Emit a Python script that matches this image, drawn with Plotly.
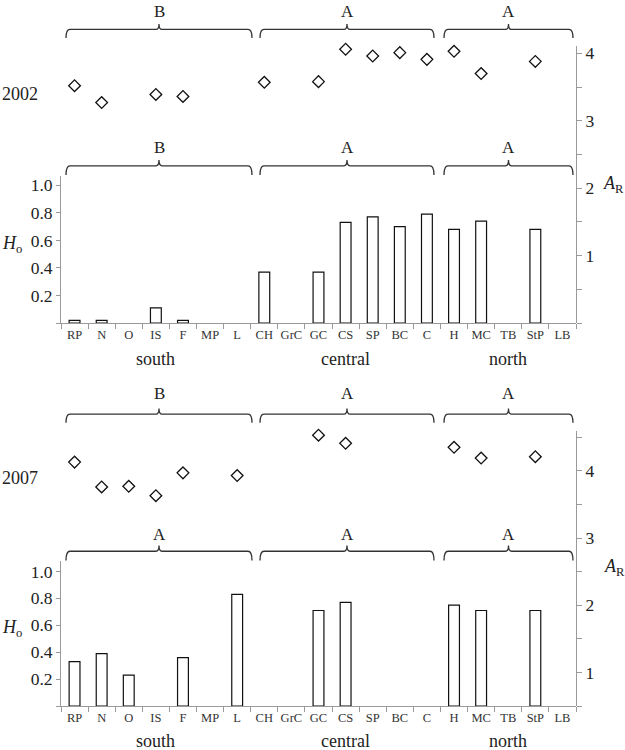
import plotly.graph_objects as go

# ---------------- data ----------------
sites = ["RP", "N", "O", "IS", "F", "MP", "L",
         "CH", "GrC", "GC", "CS", "SP", "BC", "C",
         "H", "MC", "TB", "StP", "LB"]
regions = ["south", "central", "north"]
region_sizes = [7, 7, 5]

ar_2002 = [3.52, 3.27, None, 3.39, 3.36, None, None,
           3.57, None, 3.58, 4.06, 3.96, 4.01, 3.91,
           4.03, 3.70, None, 3.88, None]
ho_2002 = [0.02, 0.02, None, 0.11, 0.02, None, None,
           0.37, None, 0.37, 0.73, 0.77, 0.70, 0.79,
           0.68, 0.74, None, 0.68, None]
ar_2007 = [4.13, 3.76, 3.77, 3.63, 3.97, None, 3.93,
           None, None, 4.53, 4.41, None, None, None,
           4.35, 4.19, None, 4.21, None]
ho_2007 = [0.33, 0.39, 0.23, None, 0.36, None, 0.83,
           None, None, 0.71, 0.77, None, None, None,
           0.75, 0.71, None, 0.71, None]

letters_ar_2002 = ["B", "A", "A"]
letters_ho_2002 = ["B", "A", "A"]
letters_ar_2007 = ["B", "A", "A"]
letters_ho_2007 = ["A", "A", "A"]

years = ["2002", "2007"]

ho_ticks = [0.2, 0.4, 0.6, 0.8, 1.0]
ho_text = ["0.2", "0.4", "0.6", "0.8", "1.0"]
ho_minor = [0]
ar_ticks = [1, 2, 3, 4]
ar_text = ["1", "2", "3", "4"]
ar02_minor = [0, 0.5, 1.5, 2.5, 3.5]
ar07_minor = [0.5, 1.5, 2.5, 3.5, 4.5]

# ---------------- geometry helpers ----------------
W, H = 625, 750
ML, MR = 61, 49
PW = W - ML - MR
SERIF = "Liberation Serif, Times New Roman, serif"
TXT = "#222222"
AX = "#9a9a9a"


def X(px):
    return (px - ML) / PW


def Y(py):
    return 1 - py / H


fig = go.Figure()

bar_style = dict(color="white", line=dict(color="#111111", width=1.2))
mk_style = dict(symbol="diamond-open", size=9, color="#111111",
                line=dict(width=1.3, color="#111111"))

fig.add_trace(go.Bar(x=sites, y=ho_2002, xaxis="x", yaxis="y",
                     marker=bar_style, width=0.4, showlegend=False))
fig.add_trace(go.Scatter(x=sites, y=ar_2002, mode="markers", xaxis="x", yaxis="y2",
                         marker=mk_style, showlegend=False, cliponaxis=False))
fig.add_trace(go.Bar(x=sites, y=ho_2007, xaxis="x2", yaxis="y3",
                     marker=bar_style, width=0.4, showlegend=False))
fig.add_trace(go.Scatter(x=sites, y=ar_2007, mode="markers", xaxis="x2", yaxis="y4",
                         marker=mk_style, showlegend=False, cliponaxis=False))

xcommon = dict(domain=[0, 1], type="category", categoryorder="array",
               categoryarray=sites, range=[-0.5, len(sites) - 0.5],
               showline=True, linecolor=AX, linewidth=1, ticks="outside",
               tickson="boundaries", ticklen=5, tickcolor=AX, tickwidth=1,
               tickangle=0,
               tickfont=dict(family=SERIF, size=12.5, color="#333333"),
               showgrid=False, zeroline=False, fixedrange=True)

ycommon = dict(showline=True, linecolor=AX, linewidth=1, ticks="outside",
               tickcolor=AX, tickwidth=1, showgrid=False,
               zeroline=False, tickfont=dict(family=SERIF, size=17.5, color=TXT),
               fixedrange=True, tickmode="array")


def minor(vals, ln):
    return dict(tickmode="array", tickvals=vals, ticks="outside", ticklen=ln,
                tickcolor=AX, tickwidth=1, showgrid=False)


fig.update_layout(
    width=W, height=H, margin=dict(l=ML, r=MR, t=0, b=0),
    paper_bgcolor="white", plot_bgcolor="rgba(0,0,0,0)",
    hovermode=False,
    xaxis=dict(xcommon, anchor="y"),
    xaxis2=dict(xcommon, anchor="y3"),
    yaxis=dict(ycommon, domain=[Y(322), Y(174)], range=[0, 1.07], anchor="x",
               side="left", tickvals=ho_ticks, ticktext=ho_text, ticklen=4,
               minor=minor(ho_minor, 4)),
    yaxis2=dict(ycommon, domain=[Y(322), Y(44)], range=[0, 4.11], anchor="x",
                side="right", tickvals=ar_ticks, ticktext=ar_text, ticklen=5,
                minor=minor(ar02_minor, 5)),
    yaxis3=dict(ycommon, domain=[Y(706), Y(560)], range=[0, 1.081], anchor="x2",
                side="left", tickvals=ho_ticks, ticktext=ho_text, ticklen=4,
                minor=minor(ho_minor, 4)),
    yaxis4=dict(ycommon, domain=[Y(706), Y(430)], range=[0.5, 4.595], anchor="x2",
                side="right", tickvals=ar_ticks, ticktext=ar_text, ticklen=5,
                minor=minor(ar07_minor, 5)),
    showlegend=False,
)

# ---------------- braces & letters ----------------
brace_px = [(66, 252), (260, 434), (444, 573)]
brace_rows = [  # (line y, tip y, peak y, label y, letters)
    (27.5, 36, 22, 10, letters_ar_2002),
    (164.3, 173.5, 158.5, 146, letters_ho_2002),
    (413.3, 422, 407.5, 393, letters_ar_2007),
    (550.7, 560, 545, 534, letters_ho_2007),
]

shapes = []
annotations = []
for yl, yt, yp, ylab, letters in brace_rows:
    for (x0, x1), let in zip(brace_px, letters):
        xc = (x0 + x1) / 2
        path = (f"M {X(x0)},{Y(yt)} Q {X(x0)},{Y(yl)} {X(x0 + 4)},{Y(yl)} "
                f"L {X(xc - 3)},{Y(yl)} Q {X(xc)},{Y(yl)} {X(xc)},{Y(yp)} "
                f"Q {X(xc)},{Y(yl)} {X(xc + 3)},{Y(yl)} "
                f"L {X(x1 - 4)},{Y(yl)} Q {X(x1)},{Y(yl)} {X(x1)},{Y(yt)}")
        shapes.append(dict(type="path", path=path, xref="paper", yref="paper",
                           line=dict(color="#333333", width=1.3)))
        annotations.append(dict(text=let, x=X(xc), y=Y(ylab), xref="paper", yref="paper",
                                xanchor="center", yanchor="middle", showarrow=False,
                                font=dict(family=SERIF, size=17, color=TXT)))

# region labels under each x axis
cum = 0
centers = []
for n in region_sizes:
    centers.append((cum + (cum + n)) / 2 / len(sites))
    cum += n
for ylab in (358, 741):
    for reg, c in zip(regions, centers):
        annotations.append(dict(text=reg, x=c, y=Y(ylab), xref="paper", yref="paper",
                                xanchor="center", yanchor="middle", showarrow=False,
                                font=dict(family=SERIF, size=18, color=TXT)))

# year labels
for yr, ylab in zip(years, (92, 477)):
    annotations.append(dict(text=yr, x=X(0), y=Y(ylab), xref="paper", yref="paper",
                            xanchor="left", yanchor="middle", showarrow=False,
                            font=dict(family=SERIF, size=18, color=TXT)))

# axis titles
for ylab in (243, 628):
    annotations.append(dict(text="<i>H</i><sub>o</sub>", x=X(0), y=Y(ylab),
                            xref="paper", yref="paper", xanchor="left", yanchor="middle",
                            showarrow=False, font=dict(family=SERIF, size=18, color=TXT)))
for xl, ylab in ((601, 183), (602, 567)):
    annotations.append(dict(text="<i>A</i><sub>R</sub>", x=X(xl), y=Y(ylab),
                            xref="paper", yref="paper", xanchor="left", yanchor="middle",
                            showarrow=False, font=dict(family=SERIF, size=18, color=TXT)))

fig.update_layout(shapes=shapes, annotations=annotations)
fig.write_html("out.html", config={"displayModeBar": False, "staticPlot": True},
               post_script="document.body.style.margin='0';"
                           "document.body.style.overflow='hidden';")
